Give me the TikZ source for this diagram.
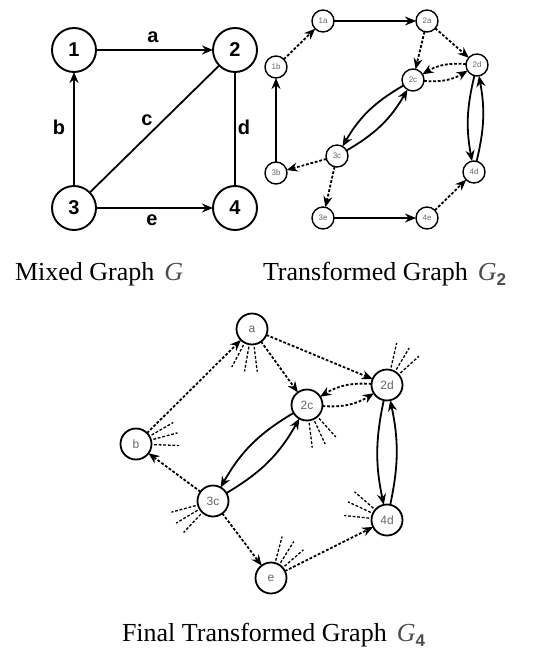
\documentclass[tikz,border=0pt]{standalone}
\usepackage{fontspec}
\setmainfont{Liberation Serif}
\setsansfont{Liberation Sans}
\usetikzlibrary{arrows.meta}
\newcommand{\gsub}[1]{\raisebox{-5pt}{\fontsize{17}{17}\selectfont\sffamily\bfseries #1}}
\tikzstyle{base}=[x=1pt, y=-1pt, inner sep=0pt, outer sep=0pt]
\tikzstyle{bignode}=[circle, draw, line width=1.9pt, minimum size=44pt, font=\sffamily\bfseries\fontsize{20}{20}\selectfont]
\tikzstyle{smallnode}=[circle, draw, line width=1.4pt, minimum size=22pt, text=black!60, font=\sffamily\fontsize{8}{8}\selectfont]
\tikzstyle{midnode}=[circle, draw, line width=1.8pt, minimum size=31pt, text=black!60, font=\sffamily\fontsize{12}{12}\selectfont]
\tikzstyle{edgelab}=[font=\sffamily\bfseries\fontsize{20}{20}\selectfont]
\tikzstyle{solid arc}=[line width=1.8pt, -{Stealth[length=11pt, width=9pt]}]
\tikzstyle{dot arc}=[line width=1.8pt, dash pattern=on 2.8pt off 1.8pt, -{Stealth[length=11pt, width=9pt]}]
\tikzstyle{ray}=[line width=1.3pt, dash pattern=on 2.8pt off 1.8pt]
\tikzstyle{caption}=[anchor=base west, font=\fontsize{26}{26}\selectfont]
\tikzstyle{gname}=[black!70]

\begin{document}
\begin{tikzpicture}[base]
        \useasboundingbox (0,0) rectangle (533,653);
        % mixed graph G
        \node[bignode] (n1) at (74,50) {1};
        \node[bignode] (n2) at (235,50) {2};
        \node[bignode] (n3) at (74,208) {3};
        \node[bignode] (n4) at (235,208) {4};
        \draw[solid arc] (n1) -- (n2);
        \draw[solid arc] (n3) -- (n1);
        \draw[solid arc] (n3) -- (n4);
        \draw[line width=1.8pt] (n3) -- (n2);
        \draw[line width=1.8pt] (n2) -- (n4);
        \node[edgelab] (la) at (153,37) {a};
        \node[edgelab] (lb) at (59,127) {b};
        \node[edgelab] (lc) at (147,120) {c};
        \node[edgelab] (ld) at (244,127) {d};
        \node[edgelab] (le) at (152,220) {e};
        % transformed graph G2
        \node[smallnode] (1a) at (323,21) {1a};
        \node[smallnode] (2a) at (427,21) {2a};
        \node[smallnode] (1b) at (276,67) {1b};
        \node[smallnode] (2d) at (477,65) {2d};
        \node[smallnode] (2c) at (413,80) {2c};
        \node[smallnode] (3c) at (337,156) {3c};
        \node[smallnode] (3b) at (276,173) {3b};
        \node[smallnode] (4d) at (474,172) {4d};
        \node[smallnode] (3e) at (323,218) {3e};
        \node[smallnode] (4e) at (427,218) {4e};
        \draw[dot arc] (1b) -- (1a);
        \draw[solid arc] (1a) -- (2a);
        \draw[dot arc] (2a) -- (2c);
        \draw[dot arc] (2a) -- (2d);
        \draw[dot arc] (2d) to[bend right=18] (2c);
        \draw[dot arc] (2c) to[bend right=18] (2d);
        \draw[solid arc] (2c) to[bend right=15] (3c);
        \draw[solid arc] (3c) to[bend right=15] (2c);
        \draw[solid arc] (2d) to[bend right=12] (4d);
        \draw[solid arc] (4d) to[bend right=12] (2d);
        \draw[solid arc] (3b) -- (1b);
        \draw[dot arc] (3c) -- (3b);
        \draw[dot arc] (3c) -- (3e);
        \draw[solid arc] (3e) -- (4e);
        \draw[dot arc] (4e) -- (4d);
        % final transformed graph G4
        \node[midnode] (fa) at (252,329) {a};
        \node[midnode] (fb) at (136,444) {b};
        \node[midnode] (f2c) at (307,405) {2c};
        \node[midnode] (f2d) at (387,385) {2d};
        \node[midnode] (f3c) at (213,501) {3c};
        \node[midnode] (f4d) at (387,520) {4d};
        \node[midnode] (fe) at (271,578) {e};
        \draw[dot arc] (fb) -- (fa);
        \draw[dot arc] (fa) -- (f2c);
        \draw[dot arc] (fa) -- (f2d);
        \draw[dot arc] (f2d) to[bend right=18] (f2c);
        \draw[dot arc] (f2c) to[bend right=18] (f2d);
        \draw[solid arc] (f2c) to[bend right=15] (f3c);
        \draw[solid arc] (f3c) to[bend right=15] (f2c);
        \draw[solid arc] (f2d) to[bend right=12] (f4d);
        \draw[solid arc] (f4d) to[bend right=12] (f2d);
        \draw[dot arc] (f3c) -- (fb);
        \draw[dot arc] (f3c) -- (fe);
        \draw[dot arc] (fe) -- (f4d);
        \foreach \ang in {118,100,83} \draw[ray] (fa) ++(\ang:18) -- ++(\ang:25);
        \foreach \ang in {-77,-59,-42} \draw[ray] (f2d) ++(\ang:18) -- ++(\ang:25);
        \foreach \ang in {83,65,48} \draw[ray] (f2c) ++(\ang:18) -- ++(\ang:25);
        \foreach \ang in {-30,-15,2} \draw[ray] (fb) ++(\ang:18) -- ++(\ang:25);
        \foreach \ang in {165,149,133} \draw[ray] (f3c) ++(\ang:18) -- ++(\ang:25);
        \foreach \ang in {-139,-155,-174} \draw[ray] (f4d) ++(\ang:18) -- ++(\ang:25);
        \foreach \ang in {-75,-58,-41} \draw[ray] (fe) ++(\ang:18) -- ++(\ang:25);
        % captions
        \node[caption] (capg) at (15,280) {Mixed Graph\hspace{10pt}\textcolor{black!70}{\textit{G}}};
        \node[caption] (capg2) at (263,280) {Transformed Graph\hspace{10pt}\textcolor{black!70}{\textit{G}\gsub{2}}};
        \node[caption] (capg4) at (122,641) {Final Transformed Graph\hspace{10pt}\textcolor{black!70}{\textit{G}\gsub{4}}};
\end{tikzpicture}
\end{document}
